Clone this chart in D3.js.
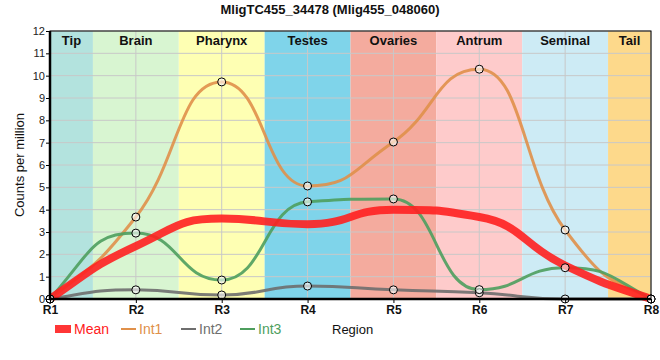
<!DOCTYPE html>
<html><head><meta charset="utf-8">
<script src="https://cdn.jsdelivr.net/npm/d3@7"></script>
<style>body{margin:0;background:#fff;} text{font-family:"Liberation Sans",Arial,sans-serif;}</style>
</head><body>
<svg id="c" width="660" height="360"></svg>
<script>
const regions = ["R1","R2","R3","R4","R5","R6","R7","R8"];
const yTicks = [0,1,2,3,4,5,6,7,8,9,10,11,12];
const mean = [0, 2.37, 3.6, 3.35, 4.0, 3.67, 1.5, 0];
const int1 = [0, 3.67, 9.72, 5.06, 7.03, 10.29, 3.09, 0];
const int2 = [0, 0.41, 0.18, 0.58, 0.41, 0.28, 0, 0];
const int3 = [0, 2.95, 0.85, 4.35, 4.48, 0.42, 1.4, 0];
const bandNames = ["Tip","Brain","Pharynx","Testes","Ovaries","Antrum","Seminal","Tail"];
const bandStart = [0, 0.5, 1.5, 2.5, 3.5, 4.5, 5.5, 6.5];
const bandEnd   = [0.5, 1.5, 2.5, 3.5, 4.5, 5.5, 6.5, 7];
const bandColors = ["#b3e3de","#d8f5d1","#feffb3","#7fd4ea","#f4ab9e","#fecbcb","#cdebf5","#fdd98b"];
const seriesNames = ["Mean","Int1","Int2","Int3"];
const seriesColors = ["#ff2020","#e0904a","#6e6e6e","#4e9e5e"];

// monotone tangents with half-interval Bezier handles
function curveMonoHalf(context){
  let xs, ys;
  return {
    areaStart(){}, areaEnd(){},
    lineStart(){ xs=[]; ys=[]; },
    point(x,y){ xs.push(+x); ys.push(+y); },
    lineEnd(){
      const n = xs.length; if(!n) return;
      const s = [], m = new Array(n).fill(0);
      for(let i=0;i<n-1;i++) s.push((ys[i+1]-ys[i])/(xs[i+1]-xs[i]));
      for(let i=1;i<n-1;i++){
        const a=s[i-1], b=s[i];
        m[i] = (Math.sign(a)+Math.sign(b))*Math.min(Math.abs(a),Math.abs(b),0.25*Math.abs(a+b)) || 0;
      }
      if(n>2){ m[0]=(3*s[0]-m[1])/2; m[n-1]=(3*s[n-2]-m[n-2])/2; }
      else if(n===2){ m[0]=m[1]=s[0]; }
      context.moveTo(xs[0],ys[0]);
      for(let i=0;i<n-1;i++){
        const h=(xs[i+1]-xs[i])/2;
        context.bezierCurveTo(xs[i]+h, ys[i]+h*m[i], xs[i+1]-h, ys[i+1]-h*m[i+1], xs[i+1], ys[i+1]);
      }
    }
  };
}

const svg = d3.select("#c");
const L=50,R=651,T=31,B=299;
const x = d3.scaleLinear().domain([0,7]).range([L,R]);
const y = d3.scaleLinear().domain([0,12]).range([B,T]);

svg.selectAll("rect.band").data(bandNames).enter().append("rect")
  .attr("x",(d,i)=>x(bandStart[i])).attr("width",(d,i)=>x(bandEnd[i])-x(bandStart[i]))
  .attr("y",T).attr("height",B-T).attr("fill",(d,i)=>bandColors[i]);

svg.append("g").selectAll("line").data(yTicks).enter().append("line")
  .attr("x1",L).attr("x2",R).attr("y1",d=>y(d)).attr("y2",d=>y(d))
  .attr("stroke","#c8c8c8").attr("stroke-width",1);
svg.append("g").selectAll("line").data(regions).enter().append("line")
  .attr("x1",(d,i)=>x(i)).attr("x2",(d,i)=>x(i)).attr("y1",T).attr("y2",B)
  .attr("stroke","#c8c8c8").attr("stroke-width",1);

svg.selectAll("text.band").data(bandNames).enter().append("text")
  .attr("x",(d,i)=>(x(bandStart[i])+x(bandEnd[i]))/2).attr("y",T+14)
  .attr("text-anchor","middle").attr("font-size",13).attr("font-weight","bold")
  .attr("fill","#111").text(d=>d);

const line = d3.line().x((d,i)=>x(i)).y(d=>y(d)).curve(curveMonoHalf);
const data = [mean,int1,int2,int3];
const widths = [8,3,3,3];
[1,2,3,0].forEach(k=>{
  svg.append("path").attr("d",line(data[k])).attr("fill","none")
    .attr("stroke",seriesColors[k]).attr("stroke-width",widths[k]).attr("stroke-opacity",0.9)
    .attr("stroke-linejoin","round");
});
[1,2,3].forEach(k=>{
  svg.append("g").selectAll("circle").data(data[k]).enter().append("circle")
    .attr("cx",(d,i)=>x(i)).attr("cy",d=>y(d)).attr("r",4)
    .attr("fill","rgba(255,255,255,0.6)").attr("stroke","#000").attr("stroke-width",1);
});

svg.append("rect").attr("x",L).attr("y",T).attr("width",R-L).attr("height",B-T)
  .attr("fill","none").attr("stroke","#000").attr("stroke-width",1);
svg.append("line").attr("x1",L).attr("x2",L).attr("y1",T).attr("y2",B+1).attr("stroke","#000").attr("stroke-width",2.5);
svg.append("line").attr("x1",L-1).attr("x2",R).attr("y1",B).attr("y2",B).attr("stroke","#000").attr("stroke-width",2.5);

const ya = svg.append("g").attr("transform",`translate(${L},0)`)
  .call(d3.axisLeft(y).tickValues(yTicks).tickSize(4).tickFormat(d3.format("d")));
ya.select(".domain").remove();
ya.selectAll("text").attr("font-size",11).attr("fill","#222").attr("x",-5);
ya.selectAll("line").attr("stroke","#000");
const xa = svg.append("g").attr("transform",`translate(0,${B})`)
  .call(d3.axisBottom(x).tickValues(d3.range(8)).tickSize(4).tickFormat(i=>regions[i]));
xa.select(".domain").remove();
xa.selectAll("text").attr("font-size",12).attr("font-weight","bold").attr("fill","#111").attr("y",6);
xa.selectAll("line").attr("stroke","#000");

svg.append("text").attr("x",330).attr("y",14).attr("text-anchor","middle")
  .attr("font-size",13).attr("font-weight","bold").attr("fill","#111")
  .text("MligTC455_34478 (Mlig455_048060)");
svg.append("text").attr("transform",`translate(24,${(T+B)/2}) rotate(-90)`)
  .attr("text-anchor","middle").attr("font-size",13).attr("fill","#111").text("Counts per million");

const lg = svg.append("g");
const lx = [55,121,181,240];
seriesNames.forEach((n,k)=>{
  if(k===0) lg.append("rect").attr("x",lx[k]).attr("y",325).attr("width",16).attr("height",8).attr("fill",seriesColors[k]).attr("opacity",0.9);
  else lg.append("line").attr("x1",lx[k]).attr("x2",lx[k]+15).attr("y1",329).attr("y2",329).attr("stroke",seriesColors[k]).attr("stroke-width",2);
  lg.append("text").attr("x",lx[k]+(k===0?19:18)).attr("y",334).attr("font-size",14)
    .attr("fill",seriesColors[k]).text(n);
});
lg.append("text").attr("x",332).attr("y",334).attr("font-size",13).attr("fill","#111").text("Region");
</script>
</body></html>
